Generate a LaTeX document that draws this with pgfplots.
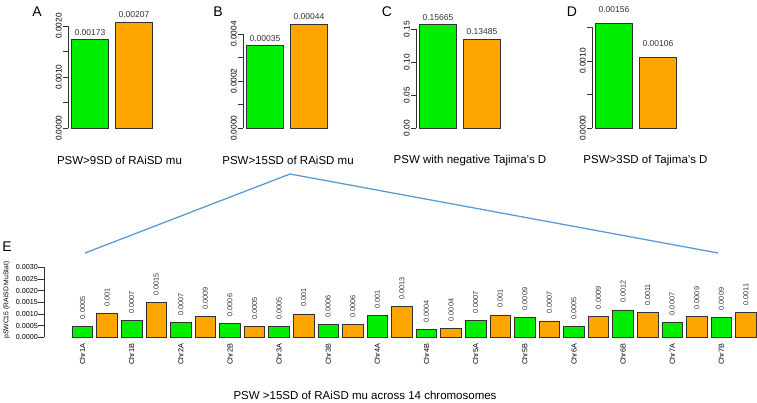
\documentclass[border=0pt]{standalone}
\usepackage{fontspec}
\setmainfont{Liberation Sans}
\usepackage{pgfplots}
\pgfplotsset{compat=1.18}
\definecolor{rgreen}{HTML}{00EE00}
\definecolor{rorange}{HTML}{FFA500}
\definecolor{linkblue}{HTML}{5B9BD5}
\definecolor{axgray}{HTML}{333333}
\pgfplotsset{
 panel/.style={
  scale only axis, anchor=south west, clip=false,
  axis x line=none, axis y line*=left, separate axis lines,
  y axis line style={draw=black, line width=0.8pt},
  ytick style={draw=black, line width=0.8pt},
  tick align=outside, major tick length=5pt,
  xmin=0.5, xmax=2.5, width=88pt, ymin=0,
  scaled y ticks=false,
  yticklabel style={rotate=90, anchor=south, inner sep=1pt, font=\fontsize{8.3}{9}\selectfont},
  every axis plot/.append style={ybar, bar width=36.5pt, bar shift=0pt, draw=axgray, line width=0.7pt},
 },
 vals/.style={point meta=explicit symbolic, nodes near coords,
  every node near coord/.append style={font=\fontsize{8.5}{9}\selectfont, anchor=south, inner sep=0pt, outer ysep=#1, text=axgray}},
}
\newcommand{\rax}[3]{% x position, top, list of ticks
  \draw[axgray, line width=0.8pt] (axis cs:#1,0) -- (axis cs:#1,#2);
  \pgfplotsinvokeforeach{#3}{\draw[axgray, line width=0.8pt] (axis cs:0.5,##1) -- (axis cs:0.3864,##1);}
}
\begin{document}
\begin{tikzpicture}
\path[use as bounding box] (0,0) rectangle (757pt,403pt);

% Panel A
\begin{axis}[panel, at={(68pt,274.7pt)}, height=102.3pt, ymax=0.002,
  ytick={0,0.0005,0.001,0.0015,0.002}, yticklabels={0.0000,,0.0010,,0.0020}]
\addplot[fill=rgreen, vals=4.5pt] coordinates {(1,0.00173) [0.00173]};
\addplot[fill=rorange, vals=4.5pt] coordinates {(2,0.00207) [0.00207]};
\rax{0.5}{0.002}{0,0.0005,0.001,0.0015,0.002}
\end{axis}

% Panel B
\begin{axis}[panel, at={(243pt,274.7pt)}, height=94.3pt, ymax=0.0004,
  ytick={0,0.0001,0.0002,0.0003,0.0004}, yticklabels={0.0000,,0.0002,,0.0004}]
\addplot[fill=rgreen, vals=4.5pt] coordinates {(1,0.00035) [0.00035]};
\addplot[fill=rorange, vals=4.5pt] coordinates {(2,0.00044) [0.00044]};
\rax{0.5}{0.0004}{0,0.0001,0.0002,0.0003,0.0004}
\end{axis}

% Panel C
\begin{axis}[panel, at={(416pt,274.7pt)}, height=99.3pt, ymax=0.15,
  ytick={0,0.05,0.1,0.15}, yticklabels={0.00,0.05,0.10,0.15}]
\addplot[fill=rgreen, vals=4.5pt] coordinates {(1,0.15665) [0.15665]};
\addplot[fill=rorange, vals=4.5pt] coordinates {(2,0.13485) [0.13485]};
\rax{0.5}{0.15}{0,0.05,0.1,0.15}
\end{axis}

% Panel D
\begin{axis}[panel, at={(592pt,274.7pt)}, height=101pt, ymax=0.0015,
  ytick={0,0.0005,0.001,0.0015}, yticklabels={0.0000,,0.0010,}]
\addplot[fill=rgreen, vals=10.5pt] coordinates {(1,0.00156) [0.00156]};
\addplot[fill=rorange, vals=10.5pt] coordinates {(2,0.00106) [0.00106]};
\rax{0.5}{0.0015}{0,0.0005,0.001,0.0015}
\end{axis}

% Panel E
\begin{axis}[scale only axis, anchor=south west, at={(44pt,65.5pt)},
  width=711.7pt, height=70pt, xmin=-1.567, xmax=27.4, ymin=0, ymax=0.003,
  clip=false, axis y line*=left, axis x line*=bottom, separate axis lines,
  x axis line style={draw=none}, xtick style={draw=none},
  y axis line style={draw=black, line width=0.8pt},
  ytick style={draw=black, line width=0.8pt},
  tick align=outside, major tick length=6pt, scaled y ticks=false,
  xtick={0,2,...,26},
  xticklabels={Chr1A,Chr1B,Chr2A,Chr2B,Chr3A,Chr3B,Chr4A,Chr4B,Chr5A,Chr5B,Chr6A,Chr6B,Chr7A,Chr7B},
  xticklabel style={rotate=90, anchor=east, inner sep=0pt, font=\fontsize{7.3}{8}\selectfont},
  ytick={0,0.0005,0.001,0.0015,0.002,0.0025,0.003},
  yticklabels={0.0000,0.0005,0.0010,0.0015,0.0020,0.0025,0.0030},
  yticklabel style={anchor=east, inner sep=0pt, font=\fontsize{7.2}{8}\selectfont},
  every axis plot/.append style={ybar, bar width=20.5pt, bar shift=0pt, draw=axgray, line width=0.7pt},
  evals/.style={point meta=explicit symbolic, nodes near coords,
  every node near coord/.append style={rotate=90, anchor=west, inner sep=0pt, outer xsep=7pt, font=\fontsize{7.3}{8}\selectfont, text=axgray}}]
\addplot[fill=rgreen, evals] coordinates {
 (0,0.00049) [0.0005] (2,0.00072) [0.0007] (4,0.00064) [0.0007] (6,0.00061) [0.0006]
 (8,0.00046) [0.0005] (10,0.00055) [0.0006] (12,0.00095) [0.001] (14,0.00035) [0.0004]
 (16,0.00072) [0.0007] (18,0.00087) [0.0009] (20,0.00046) [0.0005] (22,0.00118) [0.0012]
 (24,0.00066) [0.0007] (26,0.00087) [0.0009]};
\addplot[fill=rorange, evals] coordinates {
 (1,0.00104) [0.001] (3,0.00149) [0.0015] (5,0.00089) [0.0009] (7,0.00046) [0.0005]
 (9,0.00101) [0.001] (11,0.00055) [0.0006] (13,0.00132) [0.0013] (15,0.0004) [0.0004]
 (17,0.00097) [0.001] (19,0.00071) [0.0007] (21,0.00092) [0.0009] (23,0.00106) [0.0011]
 (25,0.00091) [0.0009] (27,0.00108) [0.0011]};
\draw[axgray, line width=0.8pt] (axis cs:-1.567,0) -- (axis cs:-1.567,0.003);
\pgfplotsinvokeforeach{0,0.0005,0.001,0.0015,0.002,0.0025,0.003}{\draw[axgray, line width=0.8pt] (axis cs:-1.567,#1) -- (axis cs:-1.811,#1);}
\end{axis}

% connector lines
\draw[linkblue, line width=1.3pt] (85pt,150pt) -- (290pt,229pt) -- (718pt,150pt);

% panel letters
\node[font=\fontsize{14}{16}\selectfont] at (37pt,391pt) {A};
\node[font=\fontsize{14}{16}\selectfont] at (218pt,391pt) {B};
\node[font=\fontsize{14}{16}\selectfont] at (387pt,391pt) {C};
\node[font=\fontsize{14}{16}\selectfont] at (572pt,391pt) {D};
\node[font=\fontsize{14}{16}\selectfont] at (7pt,156pt) {E};

% titles
\node[font=\fontsize{11.5}{13}\selectfont] at (119.5pt,243pt) {PSW>9SD of RAiSD mu};
\node[font=\fontsize{11.5}{13}\selectfont] at (288pt,243pt) {PSW>15SD of RAiSD mu};
\node[font=\fontsize{11.5}{13}\selectfont] at (470pt,242pt) {PSW with negative Tajima's D};
\node[font=\fontsize{11.5}{13}\selectfont] at (645.5pt,242pt) {PSW>3SD of Tajima's D};
\node[anchor=west, font=\fontsize{11.5}{13}\selectfont] at (230pt,8pt) {PSW >15SD of RAiSD mu across 14 chromosomes};
\node[rotate=90, font=\fontsize{6.8}{8}\selectfont] at (6.5pt,103pt) {pSWC15 (RAiSD MuStat)};
\end{tikzpicture}
\end{document}
